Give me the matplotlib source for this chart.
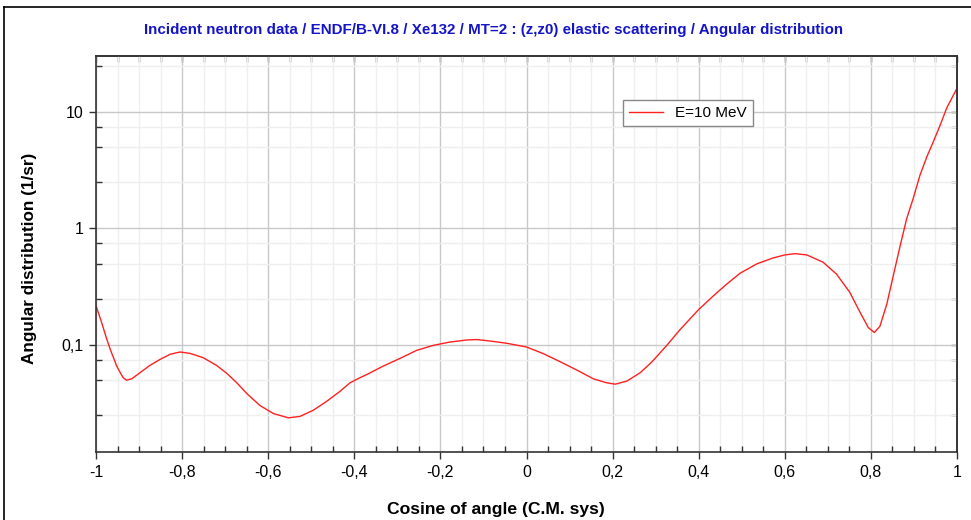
import numpy as np
import matplotlib
matplotlib.use('Agg')
import matplotlib.pyplot as plt
from matplotlib.ticker import MultipleLocator, LogLocator, FuncFormatter, NullFormatter
from matplotlib.lines import Line2D

plt.rcParams['font.family'] = ['Liberation Sans', 'DejaVu Sans']

# values
cosine = [-1.0, -0.987, -0.975, -0.967, -0.952, -0.948, -0.937, -0.929, -0.917,
          -0.898, -0.875, -0.851, -0.828, -0.805, -0.782, -0.751, -0.72, -0.696,
          -0.673, -0.65, -0.619, -0.588, -0.553, -0.526, -0.495, -0.464, -0.433,
          -0.41, -0.387, -0.371, -0.333, -0.294, -0.255, -0.216, -0.178, -0.139,
          -0.116, -0.085, -0.046, 0.0, 0.039, 0.078, 0.117, 0.155, 0.186, 0.206,
          0.233, 0.264, 0.287, 0.295, 0.326, 0.357, 0.399, 0.434, 0.465, 0.496,
          0.535, 0.573, 0.6, 0.624, 0.651, 0.689, 0.72, 0.751, 0.775, 0.794,
          0.808, 0.821, 0.837, 0.852, 0.868, 0.883, 0.898, 0.914, 0.93, 0.945,
          0.961, 0.976, 1.0]
distrib = [0.217, 0.156, 0.112, 0.0918, 0.066, 0.0618, 0.0524, 0.0499, 0.0513,
           0.0578, 0.0668, 0.0753, 0.0832, 0.0871, 0.0848, 0.0778, 0.0668, 0.057,
           0.0474, 0.0384, 0.0302, 0.0258, 0.0237, 0.0244, 0.0276, 0.0329, 0.0401,
           0.0474, 0.0524, 0.0558, 0.0659, 0.0767, 0.09, 0.0994, 0.106, 0.1104,
           0.1114, 0.1082, 0.1035, 0.0961, 0.0843, 0.0719, 0.0609, 0.0513, 0.0474,
           0.0461, 0.049, 0.0578, 0.0692, 0.0742, 0.0994, 0.136, 0.2, 0.264, 0.333,
           0.413, 0.497, 0.559, 0.593, 0.608, 0.593, 0.513, 0.406, 0.283, 0.19,
           0.141, 0.128, 0.145, 0.225, 0.394, 0.713, 1.21, 1.8, 2.87, 4.13, 5.56,
           7.73, 10.8, 16.0]

title = 'Incident neutron data / ENDF/B-VI.8 / Xe132 / MT=2 : (z,z0) elastic scattering / Angular distribution'
label = 'E=10 MeV'


def comma(v, pos=None):
    s = '{:g}'.format(round(v, 6))
    if s == '-0':
        s = '0'
    return s.replace('.', ',')


fig = plt.figure(figsize=(9.71, 5.2), dpi=100)
ax = fig.add_axes([0.0989, 0.1302, 0.8867, 0.7627])

ax.plot(cosine, distrib, color='#ff2020', lw=1.0, label=label)

ax.set_xlim(-1, 1)
ax.set_yscale('log')
ax.set_ylim(0.012, 30.4)

ax.xaxis.set_major_locator(MultipleLocator(0.2))
ax.xaxis.set_minor_locator(MultipleLocator(0.05))
ax.xaxis.set_major_formatter(FuncFormatter(comma))
ax.yaxis.set_major_locator(LogLocator(base=10, subs=[1.0]))
ax.yaxis.set_minor_locator(LogLocator(base=10, subs=[2.5, 5.0, 7.5]))
ax.yaxis.set_major_formatter(FuncFormatter(comma))
ax.yaxis.set_minor_formatter(NullFormatter())

ax.grid(which='major', color='#c8c8c8', lw=1.0)
ax.grid(which='minor', color='#efefef', lw=1.0)
ax.set_axisbelow(True)
for t in ax.yaxis.get_minor_ticks():
    loc = t.get_loc()
    if loc > 0 and abs(loc / 10 ** np.floor(np.log10(loc)) - 5) < 0.01:
        t.gridline.set_color('#e0e0e0')
        t.gridline.set_linewidth(1.8)

ax.tick_params(which='major', direction='out', length=5, width=1, color='#333333',
               labelsize=11.5, pad=4)
ax.tick_params(which='minor', direction='in', length=4, width=1, color='#333333')
for s in ax.spines.values():
    s.set_color('#333333')
    s.set_linewidth(1.2)

# ticks on the top and right sides point inward
top = ax.secondary_xaxis('top')
top.xaxis.set_major_locator(MultipleLocator(0.05))
top.tick_params(direction='in', length=4, width=1, color='#333333', labeltop=False)
right = ax.secondary_yaxis('right')
right.yaxis.set_major_locator(LogLocator(base=10, subs=[1.0, 2.5, 5.0, 7.5]))
right.yaxis.set_minor_locator(LogLocator(base=10, subs=[]))
right.tick_params(which='both', direction='in', length=4, width=1, color='#333333',
                  labelright=False)
for sec in (top, right):
    for s in sec.spines.values():
        s.set_color('#333333')
        s.set_linewidth(1.2)

ax.set_xlabel('Cosine of angle (C.M. sys)', fontsize=12.6, fontweight='bold')
ax.set_ylabel('Angular distribution (1/sr)', fontsize=12.3, fontweight='bold')
ax.xaxis.set_label_coords(0.4646, -0.125)
ax.yaxis.set_label_coords(-0.068, 0.49)
fig.text(0.5085, 0.942, title, ha='center', va='center', color='#1414c8',
         fontsize=10.9, fontweight='bold')

leg = ax.legend(loc='upper left', bbox_to_anchor=(0.612, 0.888), fontsize=11,
                fancybox=False, framealpha=1, edgecolor='#888888',
                handlelength=2.2, borderpad=0.4, borderaxespad=0)
leg.get_frame().set_linewidth(1.0)

# outer frame (left and top edges)
fig.add_artist(Line2D([0.0045, 0.0045], [0.0, 0.9865], color='black', lw=1.2,
                      transform=fig.transFigure))
fig.add_artist(Line2D([0.0045, 1.0], [0.9865, 0.9865], color='black', lw=1.2,
                      transform=fig.transFigure))

fig.savefig('out.png', dpi=100)
